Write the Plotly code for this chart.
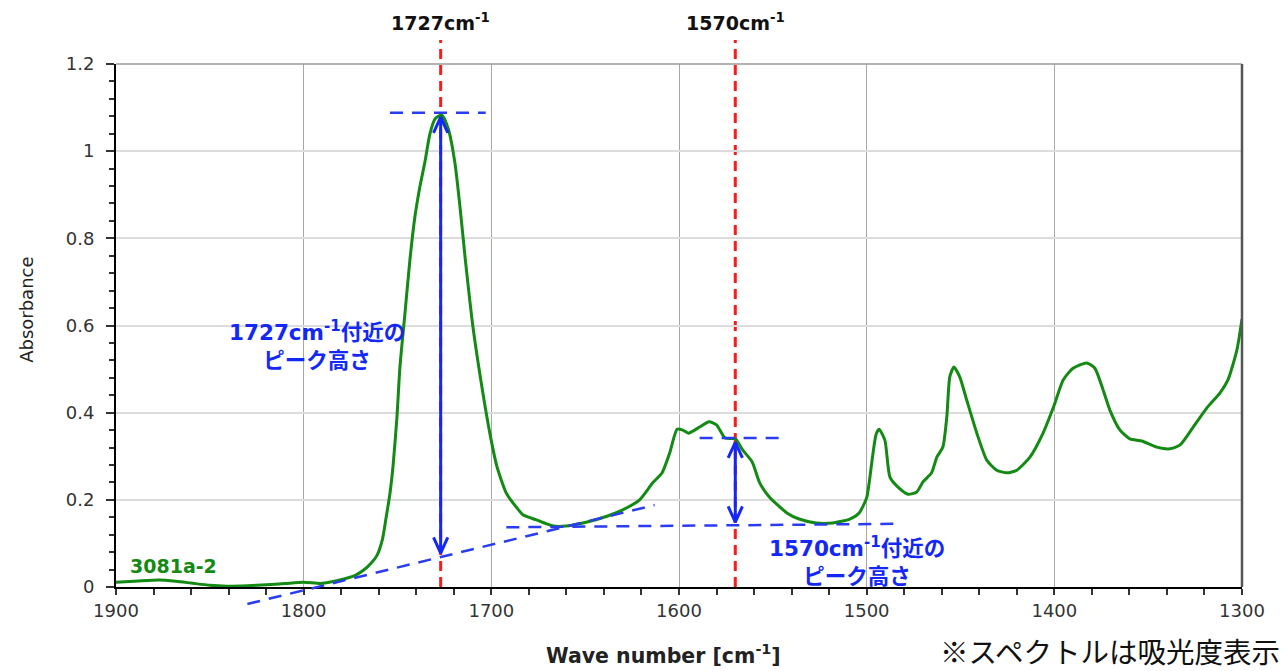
import plotly.graph_objects as go

# ---- spectrum data (wavenumber [cm-1], absorbance) ----
wavenumber = [1900, 1888, 1877, 1868, 1860, 1850, 1841, 1830, 1820, 1810, 1800, 1791, 1785, 1779,
              1772, 1768, 1764, 1761, 1758, 1756, 1754, 1752.4, 1750.3, 1748.7, 1746, 1743.4,
              1740.7, 1738, 1735.4, 1732.7, 1730, 1726.5, 1723, 1719.4, 1716.7, 1714, 1709.8,
              1704.5, 1700.8, 1697, 1692, 1687, 1683, 1676, 1667, 1660, 1649, 1638, 1630, 1621,
              1614, 1609, 1605, 1601, 1598, 1595, 1589, 1584, 1580, 1575.5, 1570, 1566, 1561,
              1557, 1552, 1542.5, 1536, 1527, 1518, 1509, 1504, 1500, 1497, 1495, 1493.4, 1490.3,
              1487.6, 1483.3, 1478, 1473.3, 1470, 1465.4, 1462.6, 1459.4, 1457.3, 1455.7, 1453.5,
              1450.4, 1446.7, 1441.3, 1436, 1430.7, 1425.3, 1420, 1413, 1406, 1400, 1395.3, 1390,
              1382.7, 1378.4, 1374, 1370.4, 1365, 1359.8, 1353.4, 1345.4, 1338.4, 1333, 1326,
              1318.7, 1311.8, 1307.5, 1302.7, 1300]
absorbance = [0.011, 0.014, 0.016, 0.013, 0.009, 0.004, 0.002, 0.003, 0.005, 0.008, 0.011, 0.008, 0.012, 0.018,
              0.028, 0.039, 0.055, 0.072, 0.11, 0.161, 0.215, 0.276, 0.39, 0.505, 0.629, 0.75,
              0.85, 0.92, 0.975, 1.04, 1.074, 1.083, 1.052, 0.973, 0.872, 0.757, 0.597,
              0.445, 0.353, 0.276, 0.215, 0.185, 0.165, 0.154, 0.14, 0.14, 0.149, 0.163, 0.177, 0.2,
              0.239, 0.262, 0.307, 0.362, 0.36, 0.353, 0.367, 0.379, 0.372, 0.342, 0.34, 0.314, 0.287,
              0.239, 0.207, 0.17, 0.156, 0.147, 0.147, 0.156, 0.17, 0.205, 0.295, 0.35, 0.362, 0.337,
              0.252, 0.229, 0.213, 0.218, 0.241, 0.262, 0.298, 0.321, 0.39, 0.482, 0.505,
              0.482, 0.429, 0.353, 0.291, 0.268, 0.262, 0.268, 0.298, 0.353, 0.418, 0.475, 0.502,
              0.514, 0.502, 0.452, 0.406, 0.36, 0.34, 0.335, 0.321, 0.317, 0.326, 0.367,
              0.411, 0.445, 0.475, 0.544, 0.615]
sample_name = "3081a-2"

# ---- peak marks ----
peak_wn = [1727, 1570]
peak_labels = ["1727cm<sup>-1</sup>", "1570cm<sup>-1</sup>"]
arrow_top = [1.078, 0.332]
arrow_bottom = [0.078, 0.149]
top_guide_x = [[1754, 1703], [1589, 1544]]
top_guide_y = [1.088, 0.342]
baseline_x = [[1830, 1613], [1692, 1483]]
baseline_y = [[-0.039, 0.188], [0.137, 0.145]]
note_texts = ["<b>1727cm<sup>-1</sup>付近の<br>ピーク高さ</b>", "<b>1570cm<sup>-1</sup>付近の<br>ピーク高さ</b>"]
note_pos = [(1793, 0.555), (1505, 0.060)]

x_range = [1900, 1300]
y_range = [0, 1.2]

LATIN = "DejaVu Sans, Noto Sans CJK JP, sans-serif"
JP = "Noto Sans CJK JP, DejaVu Sans, sans-serif"
BLUE = "#1428f5"
DASHBLUE = "#2a3cf0"
RED = "#ff1a1a"


def to_paper(v):
    return (v - y_range[0]) / (y_range[1] - y_range[0])


fig = go.Figure()
fig.add_trace(go.Scatter(x=wavenumber, y=absorbance, mode="lines",
                         line=dict(color="#138a13", width=3, shape="spline", smoothing=0.6),
                         showlegend=False, hoverinfo="skip"))

# double-headed arrows
head_dx, head_dy = 3.8, 0.036
for wn, yt, yb in zip(peak_wn, arrow_top, arrow_bottom):
    fig.add_trace(go.Scatter(x=[wn, wn], y=[yb, yt], mode="lines",
                             line=dict(color=BLUE, width=3), showlegend=False, hoverinfo="skip"))
    fig.add_trace(go.Scatter(x=[wn - head_dx, wn, wn + head_dx], y=[yt - head_dy, yt, yt - head_dy],
                             mode="lines", line=dict(color=BLUE, width=3), showlegend=False, hoverinfo="skip"))
    fig.add_trace(go.Scatter(x=[wn - head_dx, wn, wn + head_dx], y=[yb + head_dy, yb, yb + head_dy],
                             mode="lines", line=dict(color=BLUE, width=3), showlegend=False, hoverinfo="skip"))

shapes = []
# red peak lines extending above plot
for wn in peak_wn:
    shapes.append(dict(type="line", xref="x", yref="paper", x0=wn, x1=wn, y0=0, y1=1.046,
                       line=dict(color=RED, width=3, dash="10px,6px"), layer="between"))
# blue dashed guides
for gx, gy in zip(top_guide_x, top_guide_y):
    shapes.append(dict(type="line", xref="x", yref="paper", x0=gx[0], x1=gx[1],
                       y0=to_paper(gy), y1=to_paper(gy),
                       line=dict(color=DASHBLUE, width=2.5, dash="13px,9px"), layer="above"))
for bx, by in zip(baseline_x, baseline_y):
    shapes.append(dict(type="line", xref="x", yref="paper", x0=bx[0], x1=bx[1],
                       y0=to_paper(by[0]), y1=to_paper(by[1]),
                       line=dict(color=DASHBLUE, width=2.5, dash="13px,9px"), layer="above"))
# frame: top and right borders
shapes.append(dict(type="line", xref="paper", yref="paper", x0=0, x1=1, y0=1, y1=1,
                   line=dict(color="#9a9a9a", width=1.5)))
shapes.append(dict(type="line", xref="paper", yref="paper", x0=1, x1=1, y0=0, y1=1,
                   line=dict(color="#555555", width=2.5)))

annotations = []
for wn, lab in zip(peak_wn, peak_labels):
    annotations.append(dict(x=wn, y=1.080, xref="x", yref="paper", text="<b>" + lab + "</b>",
                            showarrow=False, font=dict(family=LATIN, size=19, color="#111"),
                            xanchor="center", yanchor="middle"))
for txt, (nx, ny) in zip(note_texts, note_pos):
    annotations.append(dict(x=nx, y=ny, xref="x", yref="y", text=txt, showarrow=False,
                            font=dict(family=LATIN, size=21.5, color=BLUE), align="center",
                            xanchor="center", yanchor="middle"))
annotations.append(dict(x=1893.6, y=0.048, xref="x", yref="y", text="<b>" + sample_name + "</b>",
                        showarrow=False, font=dict(family=LATIN, size=19, color="#138a13"),
                        xanchor="left", yanchor="middle"))
annotations.append(dict(x=-0.079, y=0.53, xref="paper", yref="paper", text="Absorbance",
                        textangle=-90, showarrow=False, font=dict(family=LATIN, size=18, color="#222"),
                        xanchor="center", yanchor="middle"))
annotations.append(dict(x=0.486, y=-0.130, xref="paper", yref="paper",
                        text="<b>Wave number [cm<sup>-1</sup>]</b>", showarrow=False,
                        font=dict(family=LATIN, size=20.5, color="#222"), xanchor="center", yanchor="middle"))
annotations.append(dict(x=1.0355, y=-0.122, xref="paper", yref="paper",
                        text="※スペクトルは吸光度表示", showarrow=False,
                        font=dict(family=JP, size=28.5, color="#111"), xanchor="right", yanchor="middle"))

# the page body adds an 8px margin, so the figure is sized to fit the 1288x671 window
fig.update_layout(
    width=1280, height=663,
    margin=dict(l=108, r=46, t=56, b=84),
    paper_bgcolor="white", plot_bgcolor="white",
    shapes=shapes, annotations=annotations, showlegend=False,
)
fig.update_xaxes(range=x_range, autorange=False, tick0=1300, dtick=100, ticks="outside", ticklen=6,
                 tickwidth=1.5, tickcolor="#333", showline=True, linecolor="black", linewidth=2,
                 showgrid=True, gridcolor="#a8a8a8", gridwidth=1, zeroline=False,
                 minor=dict(dtick=20, ticks="outside", ticklen=6, tickwidth=1.5, tickcolor="#333", showgrid=False),
                 tickfont=dict(family=LATIN, size=18, color="#333"))
fig.update_yaxes(range=y_range, autorange=False, tick0=0, dtick=0.2, ticks="outside", ticklen=8,
                 tickwidth=1.5, tickcolor="#333", showline=True, linecolor="black", linewidth=2,
                 showgrid=True, gridcolor="#dcdcdc", gridwidth=2, zeroline=False, ticklabelstandoff=8,
                 minor=dict(dtick=0.04, ticks="outside", ticklen=5, tickwidth=1.5, tickcolor="#333", showgrid=False),
                 tickfont=dict(family=LATIN, size=18, color="#333"))

fig.write_html("out.html")
